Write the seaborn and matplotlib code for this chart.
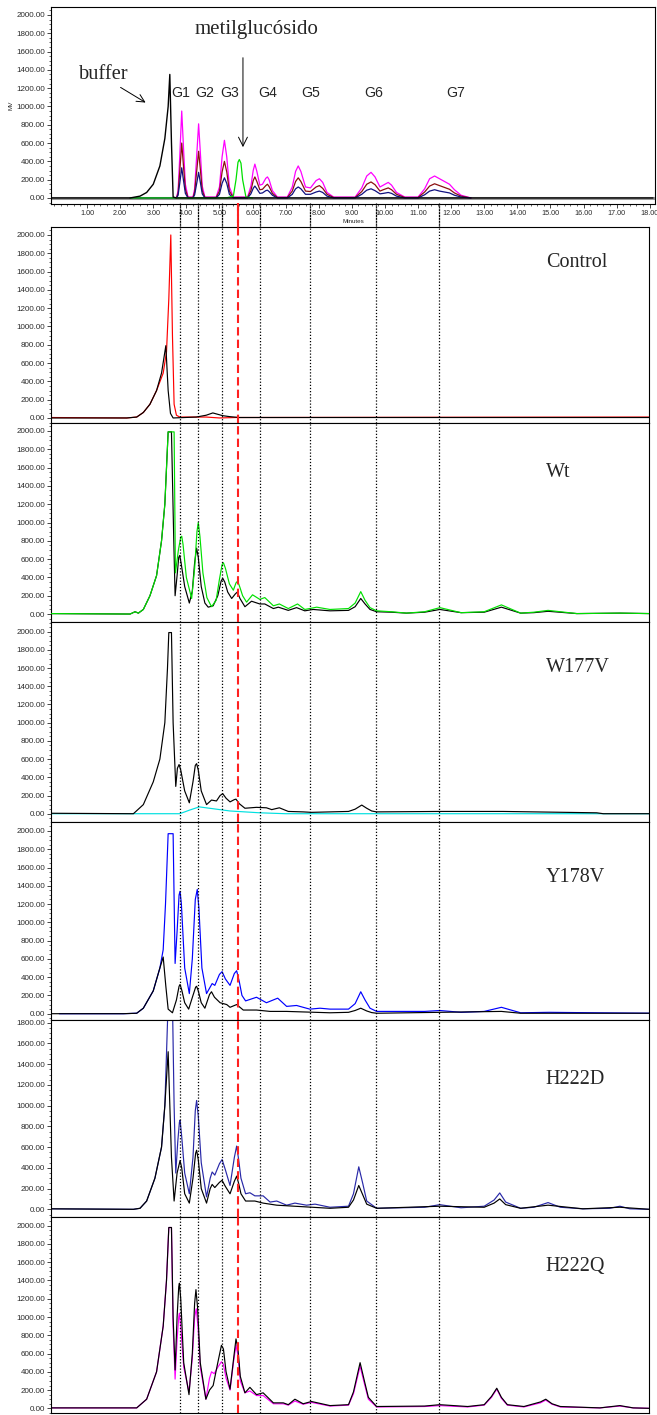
import matplotlib
matplotlib.use("Agg")
import matplotlib.pyplot as plt
import seaborn as sns
from matplotlib.ticker import MultipleLocator, FixedLocator, FormatStrFormatter

sns.set_theme(style="white")
plt.rcParams['font.family'] = ['Liberation Sans', 'DejaVu Sans']

# ---------------- datos (minutos, mV) leidos del cromatograma ----------------
# panel superior: patrones G1..G7 (tres concentraciones)
top_t = [2.3, 3.7, 3.75, 3.8, 3.86, 3.92, 3.97, 4.05,
         4.2, 4.25, 4.31, 4.37, 4.43, 4.48, 4.56,
         4.9, 5.0, 5.08, 5.15, 5.22, 5.3, 5.42,
         5.85, 5.95, 6.02, 6.07, 6.13, 6.22, 6.3, 6.4, 6.45, 6.5, 6.6, 6.75,
         7.05, 7.2, 7.3, 7.38, 7.46, 7.6, 7.75, 7.92, 8.02, 8.12, 8.25, 8.45,
         9.1, 9.3, 9.45, 9.58, 9.7, 9.85, 9.95, 10.1, 10.2, 10.35, 10.6,
         11.0, 11.2, 11.35, 11.5, 11.65, 11.8, 11.95, 12.1, 12.3, 12.6]
top_magenta = [0, 0, 80, 450, 950, 500, 150, 10,
               10, 100, 450, 810, 450, 130, 10,
               10, 120, 450, 630, 450, 120, 10,
               10, 130, 300, 370, 290, 140, 150, 215, 230, 200, 80, 10,
               10, 120, 290, 350, 290, 120, 110, 190, 210, 170, 60, 10,
               10, 110, 240, 280, 230, 120, 140, 170, 140, 60, 10,
               10, 100, 210, 240, 210, 180, 150, 90, 30, 0]
top_brown = [0, 0, 50, 285, 600, 315, 95, 5,
             5, 65, 285, 510, 285, 80, 5,
             5, 75, 285, 400, 285, 75, 5,
             5, 80, 190, 230, 180, 90, 95, 135, 150, 125, 50, 5,
             5, 75, 180, 220, 180, 75, 70, 120, 135, 105, 40, 5,
             5, 70, 150, 175, 145, 75, 90, 110, 90, 40, 5,
             5, 65, 130, 155, 135, 115, 95, 55, 20, 0]
top_navy = [0, 0, 30, 160, 330, 175, 50, 0,
            0, 35, 155, 280, 155, 45, 0,
            0, 40, 160, 220, 160, 40, 0,
            0, 45, 105, 130, 100, 50, 55, 80, 85, 70, 30, 0,
            0, 40, 100, 120, 100, 40, 40, 65, 75, 60, 20, 0,
            0, 40, 85, 100, 80, 45, 50, 60, 50, 20, 0,
            0, 35, 75, 90, 75, 65, 55, 30, 10, 0]
top_buffer = [(-0.1, 0), (2.3, 0), (2.6, 20), (2.8, 60), (3.0, 150), (3.2, 350), (3.35, 650),
              (3.45, 1000), (3.5, 1350), (3.55, 600), (3.6, 10), (3.7, 0), (18.1, 0)]
top_metil = [(2.3, 0), (5.2, 0), (5.42, 20), (5.5, 200), (5.56, 390), (5.6, 420), (5.65, 380),
             (5.7, 200), (5.8, 10), (6.0, 0)]

control_black = [(-0.1, 0), (2.2, 0), (2.5, 10), (2.7, 60), (2.9, 150), (3.1, 300), (3.25, 490),
                 (3.38, 790), (3.45, 300), (3.52, 50), (3.6, 0), (4.3, 10), (4.6, 30), (4.8, 55),
                 (5.0, 35), (5.1, 25), (5.3, 15), (5.6, 5), (18.0, 5)]
control_red = [(-0.1, 5), (2.2, 0), (2.5, 10), (2.7, 60), (2.9, 150), (3.1, 300), (3.3, 490),
               (3.4, 720), (3.47, 1300), (3.53, 2000), (3.58, 900), (3.63, 150), (3.7, 30),
               (3.8, 10), (4.6, 10), (5.0, 0), (5.5, 5), (18.0, 10)]

wt_black = [(-0.1, 5), (2.3, 0), (2.45, 25), (2.55, 10), (2.7, 50), (2.9, 200), (3.1, 420),
            (3.25, 800), (3.35, 1200), (3.45, 1990), (3.55, 1990), (3.62, 800), (3.66, 200),
            (3.72, 420), (3.77, 620), (3.8, 640), (3.84, 560), (3.95, 300), (4.09, 120),
            (4.18, 250), (4.25, 560), (4.31, 720), (4.36, 620), (4.45, 300), (4.56, 120),
            (4.66, 75), (4.81, 90), (4.95, 200), (5.05, 360), (5.1, 390), (5.16, 350), (5.25, 240),
            (5.37, 170), (5.48, 220), (5.54, 240), (5.62, 170), (5.77, 80), (5.97, 140),
            (6.22, 110), (6.37, 110), (6.63, 60), (6.78, 75), (7.08, 40), (7.33, 70), (7.58, 35),
            (7.83, 50), (8.34, 35), (8.9, 40), (9.1, 80), (9.27, 170), (9.4, 110), (9.55, 50),
            (9.75, 25), (10.2, 20), (10.65, 10), (11.2, 20), (11.66, 50), (12.3, 15), (13.0, 20),
            (13.52, 75), (14.1, 10), (14.5, 15), (14.93, 30), (15.8, 5), (17.1, 10), (18.0, 5)]
wt_green = [(-0.1, 5), (2.3, 0), (2.45, 25), (2.55, 10), (2.7, 50), (2.9, 200), (3.1, 420),
            (3.25, 800), (3.35, 1200), (3.45, 1990), (3.63, 1990), (3.67, 450), (3.76, 700),
            (3.83, 840), (3.86, 850), (3.9, 760), (4.0, 400), (4.16, 170), (4.25, 500), (4.32, 900),
            (4.36, 1000), (4.41, 850), (4.5, 450), (4.62, 180), (4.76, 80), (4.9, 150), (5.0, 380),
            (5.08, 540), (5.12, 560), (5.18, 500), (5.3, 330), (5.42, 260), (5.5, 340), (5.55, 360),
            (5.62, 290), (5.7, 200), (5.82, 130), (6.0, 210), (6.22, 160), (6.37, 180), (6.63, 90),
            (6.81, 110), (7.08, 60), (7.36, 110), (7.58, 50), (7.94, 75), (8.34, 50), (8.9, 60),
            (9.1, 120), (9.27, 245), (9.4, 150), (9.55, 70), (9.75, 35), (10.2, 25), (10.65, 10),
            (11.2, 25), (11.66, 70), (12.3, 15), (13.0, 25), (13.52, 100), (14.1, 10), (14.5, 20),
            (14.93, 40), (15.8, 5), (17.1, 10), (18.0, 5)]

w177v_black = [(-0.1, 5), (2.4, 0), (2.7, 100), (3.0, 350), (3.2, 600), (3.35, 1000), (3.43, 1600),
               (3.47, 1990), (3.55, 1990), (3.6, 1000), (3.68, 300), (3.73, 500), (3.78, 540),
               (3.83, 480), (3.95, 250), (4.09, 120), (4.2, 350), (4.27, 530), (4.31, 550),
               (4.36, 480), (4.45, 250), (4.61, 100), (4.76, 150), (4.91, 140), (5.02, 200),
               (5.1, 220), (5.2, 170), (5.32, 130), (5.45, 155), (5.5, 160), (5.6, 110), (5.77, 60),
               (6.12, 70), (6.42, 65), (6.58, 45), (6.81, 65), (7.08, 25), (7.53, 20), (7.78, 15),
               (8.34, 20), (8.9, 25), (9.1, 50), (9.3, 95), (9.45, 60), (9.6, 30), (9.75, 20),
               (11.66, 25), (13.57, 25), (16.4, 10), (16.6, 0), (18.0, 0)]
w177v_cyan = [(-0.1, 0), (3.8, 0), (4.1, 40), (4.39, 75), (5.32, 30), (6.22, 10), (7.0, 0), (18.0, 0)]

y178v_blue = [(0.16, 0), (2.1, 0), (2.5, 5), (2.7, 60), (3.0, 250), (3.2, 500), (3.3, 700),
              (3.37, 1200), (3.45, 1970), (3.6, 1970), (3.66, 550), (3.72, 900), (3.78, 1300),
              (3.81, 1340), (3.85, 1200), (3.95, 500), (4.09, 220), (4.18, 600), (4.27, 1250),
              (4.33, 1360), (4.38, 1150), (4.47, 500), (4.61, 220), (4.78, 330), (4.86, 310),
              (5.0, 430), (5.08, 460), (5.18, 380), (5.32, 310), (5.45, 440), (5.52, 470),
              (5.6, 350), (5.68, 200), (5.79, 140), (6.12, 180), (6.42, 120), (6.76, 170),
              (7.03, 80), (7.33, 90), (7.73, 50), (8.04, 60), (8.34, 50), (8.9, 50), (9.1, 110),
              (9.27, 240), (9.4, 150), (9.55, 60), (9.75, 25), (11.2, 25), (11.66, 35), (12.3, 15),
              (13.0, 25), (13.52, 70), (14.1, 10), (14.96, 15), (16.4, 10), (18.0, 5)]
y178v_black = [(-0.1, 0), (2.1, 0), (2.5, 5), (2.7, 60), (3.0, 250), (3.2, 500), (3.3, 620),
               (3.38, 300), (3.45, 50), (3.58, 10), (3.7, 150), (3.78, 300), (3.81, 320),
               (3.86, 260), (3.95, 120), (4.07, 50), (4.2, 200), (4.28, 290), (4.31, 300),
               (4.36, 250), (4.45, 120), (4.56, 60), (4.7, 210), (4.76, 240), (4.85, 180),
               (5.02, 120), (5.22, 100), (5.32, 70), (5.52, 100), (5.72, 40), (6.12, 40), (6.53, 25),
               (7.03, 25), (8.34, 10), (8.9, 15), (9.1, 35), (9.27, 60), (9.45, 30), (9.6, 12),
               (9.75, 5), (11.66, 15), (13.52, 25), (14.1, 5), (18.0, 5)]

h222d_blue = [(-0.1, 5), (2.4, 0), (2.6, 10), (2.8, 80), (3.05, 300), (3.25, 600), (3.35, 1000),
              (3.4, 1500), (3.45, 2000), (3.58, 2000), (3.63, 1000), (3.68, 350), (3.74, 650),
              (3.79, 840), (3.81, 860), (3.86, 700), (3.95, 350), (4.09, 150), (4.2, 500),
              (4.27, 950), (4.31, 1050), (4.36, 900), (4.45, 450), (4.61, 120), (4.72, 300),
              (4.78, 360), (4.86, 330), (5.0, 440), (5.08, 480), (5.18, 380), (5.32, 230),
              (5.45, 500), (5.52, 610), (5.58, 480), (5.65, 300), (5.79, 150), (5.92, 160),
              (6.07, 130), (6.32, 130), (6.53, 70), (6.73, 80), (7.03, 40), (7.28, 60), (7.63, 40),
              (7.89, 50), (8.34, 20), (8.9, 30), (9.05, 150), (9.21, 410), (9.33, 250), (9.45, 80),
              (9.75, 10), (11.2, 20), (11.66, 45), (12.3, 15), (13.0, 30), (13.3, 90), (13.47, 158),
              (13.65, 70), (14.1, 10), (14.5, 20), (14.93, 65), (15.3, 20), (15.98, 5), (16.8, 10),
              (17.1, 30), (17.4, 5), (18.0, 0)]
h222d_black = [(-0.1, 5), (2.4, 0), (2.6, 10), (2.8, 80), (3.05, 300), (3.25, 600), (3.35, 1000),
               (3.45, 1520), (3.55, 500), (3.63, 80), (3.72, 350), (3.81, 470), (3.86, 400),
               (3.95, 150), (4.09, 60), (4.2, 300), (4.28, 540), (4.31, 570), (4.36, 480),
               (4.45, 200), (4.61, 60), (4.72, 200), (4.78, 240), (4.86, 210), (5.0, 260),
               (5.08, 280), (5.18, 220), (5.32, 150), (5.45, 270), (5.52, 320), (5.58, 250),
               (5.65, 150), (5.79, 80), (6.07, 80), (6.32, 60), (6.73, 40), (8.34, 10), (8.9, 20),
               (9.05, 90), (9.21, 230), (9.33, 140), (9.45, 50), (9.75, 10), (11.66, 30), (13.0, 20),
               (13.3, 60), (13.47, 100), (13.65, 45), (14.1, 10), (14.93, 40), (15.98, 5), (17.1, 20),
               (18.0, 0)]

h222q_black = [(-0.1, 5), (2.5, 5), (2.8, 100), (3.1, 400), (3.3, 900), (3.4, 1400), (3.47, 1980),
               (3.55, 1980), (3.6, 1000), (3.66, 420), (3.72, 1000), (3.77, 1330), (3.79, 1370),
               (3.83, 1200), (3.92, 500), (4.08, 150), (4.18, 600), (4.25, 1150), (4.29, 1300),
               (4.34, 1100), (4.42, 500), (4.59, 100), (4.7, 200), (4.81, 250), (4.95, 500),
               (5.06, 690), (5.12, 650), (5.2, 400), (5.32, 210), (5.43, 550), (5.5, 760),
               (5.56, 650), (5.63, 350), (5.77, 170), (5.92, 230), (6.12, 150), (6.32, 170),
               (6.63, 60), (6.93, 60), (7.08, 40), (7.28, 100), (7.53, 50), (7.78, 75), (8.34, 30),
               (8.9, 40), (9.05, 180), (9.25, 500), (9.38, 300), (9.5, 120), (9.75, 20), (11.2, 25),
               (11.66, 40), (12.5, 20), (13.0, 40), (13.22, 130), (13.38, 220), (13.52, 120),
               (13.7, 40), (14.2, 20), (14.7, 70), (14.86, 100), (15.05, 50), (15.3, 20), (16.5, 5),
               (17.1, 30), (17.5, 5), (18.0, 0)]
h222q_magenta = [(-0.1, 5), (2.5, 5), (2.8, 100), (3.1, 400), (3.3, 900), (3.4, 1400), (3.47, 1980),
                 (3.55, 1980), (3.6, 900), (3.66, 320), (3.72, 750), (3.77, 1000), (3.79, 1040),
                 (3.83, 900), (3.92, 450), (4.08, 180), (4.18, 550), (4.25, 1000), (4.3, 1090),
                 (4.35, 900), (4.42, 450), (4.59, 100), (4.7, 330), (4.76, 400), (4.84, 380),
                 (4.95, 450), (5.06, 510), (5.12, 480), (5.2, 330), (5.32, 200), (5.43, 520),
                 (5.5, 690), (5.56, 580), (5.63, 300), (5.77, 170), (5.92, 190), (6.12, 140),
                 (6.32, 140), (6.63, 50), (6.93, 50), (7.08, 35), (7.28, 80), (7.53, 45), (7.78, 65),
                 (8.34, 25), (8.9, 35), (9.05, 160), (9.25, 460), (9.38, 270), (9.5, 100), (9.75, 15),
                 (11.2, 20), (11.66, 30), (12.5, 15), (13.0, 35), (13.22, 120), (13.38, 210),
                 (13.52, 110), (13.7, 35), (14.2, 15), (14.7, 60), (14.86, 90), (15.05, 45), (15.3, 15),
                 (16.5, 5), (17.1, 25), (17.5, 5), (18.0, 0)]

# marcas de retencion de G1..G7 y del metilglucosido
g_lines = [3.81, 4.35, 5.08, 6.22, 7.73, 9.73, 11.63]
metil_line = 5.56
g_labels = ["G1", "G2", "G3", "G4", "G5", "G6", "G7"]
g_label_x = [3.84, 4.56, 5.32, 6.47, 7.76, 9.67, 12.15]
x_tick_vals = list(range(1, 19))

# ---------------- figura ----------------
W, H = 657, 1415
fig = plt.figure(figsize=(W / 100, H / 100), dpi=100)


def box(l, t, r, b):
    return [l / W, 1 - b / H, (r - l) / W, (b - t) / H]


def draw(ax, pts, color, lw=0.8, z=2):
    t = [p[0] for p in pts]
    v = [p[1] for p in pts]
    sns.lineplot(x=t, y=v, ax=ax, color=color, linewidth=lw, estimator=None,
                 sort=False, errorbar=None, legend=False, zorder=z)


def y_axis(ax):
    ax.yaxis.set_major_locator(MultipleLocator(200))
    ax.yaxis.set_minor_locator(MultipleLocator(50))
    ax.yaxis.set_major_formatter(FormatStrFormatter('%.2f'))
    ax.tick_params(axis='y', which='major', direction='out', length=3, width=0.6,
                   labelsize=5.8, labelcolor='#2a2a2a', pad=1.5, left=True)
    ax.tick_params(axis='y', which='minor', direction='out', length=1.5, width=0.5, left=True)
    for s in ax.spines.values():
        s.set_color('black')
        s.set_linewidth(0.8)
    ax.set_xlabel('')
    ax.set_ylabel('')


# ---- panel superior ----
ax0 = fig.add_axes(box(51, 7, 655, 204))
ax0.axhline(0, color='#9a9a9a', lw=2.2, zorder=1)
draw(ax0, top_buffer, 'black', 1.0, 3)
draw(ax0, list(zip(top_t, top_magenta)), '#ff00ff', 0.9)
draw(ax0, list(zip(top_t, top_brown)), '#8b1010', 0.9)
draw(ax0, list(zip(top_t, top_navy)), '#101080', 0.9)
draw(ax0, top_metil, '#00e000', 0.9)
ax0.set_xlim(-0.09, 18.16)
ax0.set_ylim(-66, 2087)
y_axis(ax0)
ax0.xaxis.set_major_locator(FixedLocator(x_tick_vals))
ax0.xaxis.set_minor_locator(MultipleLocator(0.2))
ax0.xaxis.set_major_formatter(FormatStrFormatter('%.2f'))
ax0.tick_params(axis='x', which='major', direction='out', length=3, width=0.6,
                labelsize=5.2, labelcolor='#2a2a2a', pad=1.5, bottom=True)
ax0.tick_params(axis='x', which='minor', direction='out', length=1.5, width=0.5, bottom=True)
ax0.set_xlabel('Minutes', fontsize=4.5, labelpad=1, color='#2a2a2a')
ax0.set_ylabel('MV', fontsize=4.5, labelpad=2, color='#2a2a2a')
for x in g_lines:
    ax0.axvline(x, ymin=-0.12, ymax=0.0, color='black', lw=0.9, ls=(0, (1, 1.5)), clip_on=False)
ax0.axvline(metil_line, ymin=-0.12, ymax=0.0, color='#ff2020', lw=1.5, ls=(0, (4, 2)), clip_on=False)

for lab, x in zip(g_labels, g_label_x):
    ax0.text(x, 1150, lab, fontsize=10.2, ha='center', va='center', family='Liberation Sans')
ax0.text(6.13, 1836, 'metilglucósido', fontsize=15, ha='center', va='center', family='Liberation Serif')
ax0.text(1.51, 1344, 'buffer', fontsize=14.7, ha='center', va='center', family='Liberation Serif')
ax0.annotate('', xy=(2.84, 1027), xytext=(1.94, 1224),
             arrowprops=dict(arrowstyle='->', lw=0.7, color='black', mutation_scale=14))
ax0.annotate('', xy=(5.71, 525), xytext=(5.71, 1563),
             arrowprops=dict(arrowstyle='->', lw=0.7, color='black', mutation_scale=16))

# ---- paneles de muestras ----
panels = [
    ("Control", (227, 423), (-55, 2087), 1694, [(control_red, '#ff0000', 2), (control_black, 'black', 3)]),
    ("Wt", (423, 622), (-87, 2087), 1541, [(wt_black, 'black', 2), (wt_green, '#00e000', 3)]),
    ("W177V", (622, 822), (-91, 2106), 1601, [(w177v_cyan, '#00e0e0', 2), (w177v_black, 'black', 3)]),
    ("Y178V", (822, 1020), (-69, 2098), 1486, [(y178v_blue, '#0000ff', 2), (y178v_black, 'black', 3)]),
    ("H222D", (1020, 1217), (-74, 1826), 1256, [(h222d_blue, '#2828a8', 2), (h222d_black, 'black', 3)]),
    ("H222Q", (1217, 1413), (-51, 2095), 1548, [(h222q_magenta, '#ff00ff', 2), (h222q_black, 'black', 3)]),
]

for i, (name, (top, bot), ylim, label_y, traces) in enumerate(panels):
    ax = fig.add_axes(box(51, top, 649, bot))
    for pts, col, z in traces:
        draw(ax, pts, col, 0.85, z)
    ax.set_xlim(-0.09, 17.98)
    ax.set_ylim(*ylim)
    y_axis(ax)
    ax.set_xticks([])
    up = 1.12 if i == 0 else 1.0
    for x in g_lines:
        ax.axvline(x, ymin=0, ymax=up, color='black', lw=0.9, ls=(0, (1, 1.5)), clip_on=False, zorder=4)
    ax.axvline(metil_line, ymin=0, ymax=up, color='#ff2020', lw=1.5, ls=(0, (4, 2)), clip_on=False, zorder=5)
    ax.text(14.86, label_y, name, fontsize=14.5, ha='left', va='center', family='Liberation Serif')

fig.savefig('out.png', dpi=100)
